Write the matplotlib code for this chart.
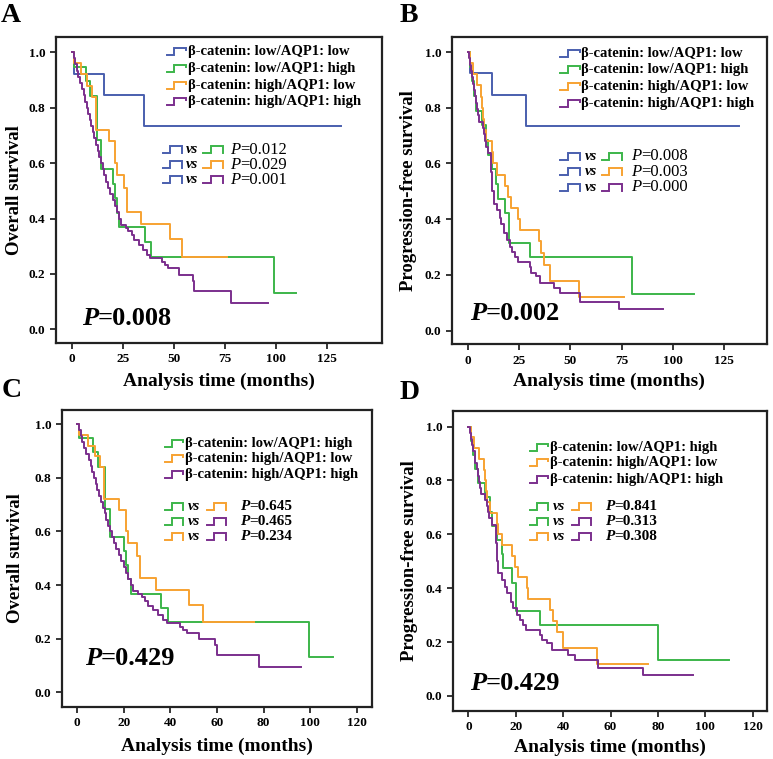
import matplotlib
matplotlib.use('Agg')
import matplotlib.pyplot as plt
from matplotlib.lines import Line2D

plt.rcParams['font.family'] = ['Liberation Serif', 'DejaVu Serif']
plt.rcParams['font.weight'] = 'bold'

# ---------------- data ----------------
group_labels = ['β-catenin: low/AQP1: low', 'β-catenin: low/AQP1: high',
                'β-catenin: high/AQP1: low', 'β-catenin: high/AQP1: high']
colors = ['#4a5fae', '#3cb64a', '#f7a231', '#7b2f8d']

# Overall survival (months, survival proportion)
blue_os_t = [0, 1, 15.7, 35.3]
blue_os_s = [1.0, 0.923, 0.846, 0.734]
blue_os_end = 132

green_os_t = [0, 1, 7, 9, 12, 14, 20, 21, 22, 23, 36, 39, 99.3]
green_os_s = [1.0, 0.947, 0.895, 0.842, 0.684, 0.579, 0.526, 0.474, 0.421, 0.368, 0.316, 0.263, 0.132]
green_os_end = 110

orange_os_t = [0, 1, 4.5, 7.5, 10, 11.7, 18, 21, 22, 25.7, 27, 34, 48.2, 54]
orange_os_s = [1.0, 0.96, 0.92, 0.88, 0.84, 0.72, 0.68, 0.60, 0.556, 0.51, 0.425, 0.382, 0.326, 0.262]
orange_os_end = 76

purple_os_t = [0, 0.7, 1.5, 2.2, 3.0, 4.0, 5.0, 5.8, 6.5, 7.2, 8.0, 8.7, 9.4, 10.2, 11.0,
               11.8, 12.6, 13.3, 14.2, 15.0, 15.8, 16.8, 17.8, 18.8, 20.0, 21.0, 22.0, 23.2,
               24.2, 26.3, 27.7, 29.2, 30.6, 32.7, 34.9, 37.0, 38.5, 44.2, 45.6, 47.3, 52.4,
               59.2, 60.0, 78.0]
purple_os_s = [1.0, 0.978, 0.956, 0.933, 0.911, 0.889, 0.867, 0.844, 0.822, 0.8, 0.778, 0.756,
               0.733, 0.711, 0.689, 0.667, 0.644, 0.622, 0.6, 0.578, 0.556, 0.533, 0.511, 0.489,
               0.467, 0.444, 0.422, 0.4, 0.378, 0.367, 0.356, 0.34, 0.322, 0.305, 0.288, 0.27,
               0.257, 0.245, 0.232, 0.22, 0.198, 0.176, 0.139, 0.095]
purple_os_end = 96

# Progression-free survival
blue_pfs_t = [0, 1, 12, 28.2]
blue_pfs_s = [1.0, 0.923, 0.846, 0.734]
blue_pfs_end = 132

green_pfs_t = [0, 1, 2, 3, 4, 7, 9, 10, 12, 14, 14.8, 18.3, 20.2, 30.2, 80.2]
green_pfs_s = [1.0, 0.947, 0.895, 0.842, 0.789, 0.737, 0.684, 0.632, 0.579, 0.526, 0.474,
               0.421, 0.316, 0.263, 0.132]
green_pfs_end = 110

orange_pfs_t = [0, 1, 2.5, 4.5, 6.5, 7, 7.5, 8, 9.1, 12, 12.5, 14.1, 18.3, 19.5, 21, 24.6,
                25.3, 34.5, 35.9, 37.3, 40.1, 54.2]
orange_pfs_s = [1.0, 0.96, 0.92, 0.88, 0.84, 0.80, 0.76, 0.72, 0.68, 0.64, 0.60, 0.56, 0.52,
                0.48, 0.44, 0.40, 0.36, 0.32, 0.28, 0.237, 0.178, 0.119]
orange_pfs_end = 76

purple_pfs_t = [0, 0.7, 1.2, 1.7, 2.1, 2.6, 3.0, 3.5, 4.0, 4.5, 5.0, 5.5, 7.2, 7.7, 8.4, 8.9,
                9.9, 11.5, 12.0, 12.7, 14.1, 15.5, 16.2, 17.9, 19.0, 20.4, 21.8, 23.2, 24.3,
                30.2, 31.0, 33.3, 35.4, 42.2, 45.0, 54.9, 73.9]
purple_pfs_s = [1.0, 0.977, 0.955, 0.932, 0.909, 0.886, 0.864, 0.841, 0.818, 0.795, 0.773,
                0.75, 0.727, 0.705, 0.682, 0.659, 0.636, 0.568, 0.5, 0.455, 0.432, 0.406,
                0.381, 0.35, 0.326, 0.301, 0.282, 0.264, 0.245, 0.227, 0.208, 0.196, 0.171,
                0.152, 0.134, 0.103, 0.078]
purple_pfs_end = 95

yticks = [0.0, 0.2, 0.4, 0.6, 0.8, 1.0]
xticks_ab = [0, 25, 50, 75, 100, 125]
xticks_cd = [0, 20, 40, 60, 80, 100, 120]

overall_p = {'A': '=0.008', 'B': '=0.002', 'C': '=0.429', 'D': '=0.429'}
pairs_ab = [(0, 1), (0, 2), (0, 3)]
pairs_cd = [(1, 2), (1, 3), (2, 3)]
pair_p = {'A': ['=0.012', '=0.029', '=0.001'],
          'B': ['=0.008', '=0.003', '=0.000'],
          'C': ['=0.645', '=0.465', '=0.234'],
          'D': ['=0.841', '=0.313', '=0.308']}

os_curves = [(blue_os_t, blue_os_s, blue_os_end), (green_os_t, green_os_s, green_os_end),
             (orange_os_t, orange_os_s, orange_os_end), (purple_os_t, purple_os_s, purple_os_end)]
pfs_curves = [(blue_pfs_t, blue_pfs_s, blue_pfs_end), (green_pfs_t, green_pfs_s, green_pfs_end),
              (orange_pfs_t, orange_pfs_s, orange_pfs_end),
              (purple_pfs_t, purple_pfs_s, purple_pfs_end)]

# ---------------- layout ----------------
W, H = 773, 759
fig = plt.figure(figsize=(W / 100, H / 100), dpi=100)


def ax_px(left, top, right, bottom):
    return fig.add_axes([left / W, 1 - bottom / H, (right - left) / W, (bottom - top) / H])


panels = {
    'A': dict(box=(56, 37, 382, 343), xlim=(-7.9, 152.2), ylim=(-0.049, 1.055),
              xt=xticks_ab, curves=os_curves, groups=[0, 1, 2, 3], pairs=pairs_ab,
              ylabel='Overall survival', ylab_x=-0.126, xlab_y=-0.124,
              leg_gx=(0.34, 0.400), leg_tx=0.405, leg_y=[0.952, 0.898, 0.843, 0.789],
              vs_y=[0.631, 0.582, 0.533], vs_g1=(0.327, 0.386), vs_x=0.397,
              vs_g2=(0.451, 0.512), vs_px=0.534, vs_fs=12, vs_w='normal',
              p_xy=(0.079, 0.059), letter_xy=(1, 22)),
    'B': dict(box=(451.7, 36.7, 766.7, 344.3), xlim=(-7.8, 145.6), ylim=(-0.049, 1.055),
              xt=xticks_ab, curves=pfs_curves, groups=[0, 1, 2, 3], pairs=pairs_ab,
              ylabel='Progression-free survival', ylab_x=-0.136, xlab_y=-0.119,
              leg_gx=(0.344, 0.407), leg_tx=0.412, leg_y=[0.946, 0.892, 0.838, 0.784],
              vs_y=[0.612, 0.561, 0.510], vs_g1=(0.344, 0.407), vs_x=0.423,
              vs_g2=(0.476, 0.540), vs_px=0.569, vs_fs=12, vs_w='normal',
              p_xy=(0.058, 0.079), letter_xy=(400, 22)),
    'C': dict(box=(61.7, 410, 371.7, 706.7), xlim=(-6.6, 126.4), ylim=(-0.054, 1.053),
              xt=xticks_cd, curves=os_curves, groups=[1, 2, 3], pairs=pairs_cd,
              ylabel='Overall survival', ylab_x=-0.149, xlab_y=-0.135,
              leg_gx=(0.333, 0.392), leg_tx=0.398, leg_y=[0.888, 0.837, 0.781],
              vs_y=[0.676, 0.624, 0.573], vs_g1=(0.333, 0.390), vs_x=0.408,
              vs_g2=(0.468, 0.530), vs_px=0.575, vs_fs=11, vs_w='bold',
              p_xy=(0.075, 0.14), letter_xy=(2, 397)),
    'D': dict(box=(452.7, 411, 766.7, 711), xlim=(-6.6, 125.9), ylim=(-0.056, 1.058),
              xt=xticks_cd, curves=pfs_curves, groups=[1, 2, 3], pairs=pairs_cd,
              ylabel='Progression-free survival', ylab_x=-0.138, xlab_y=-0.12,
              leg_gx=(0.246, 0.305), leg_tx=0.310, leg_y=[0.879, 0.828, 0.772],
              vs_y=[0.683, 0.631, 0.581], vs_g1=(0.246, 0.305), vs_x=0.320,
              vs_g2=(0.379, 0.440), vs_px=0.485, vs_fs=11, vs_w='bold',
              p_xy=(0.055, 0.07), letter_xy=(400, 399)),
}

LW = 1.4


def glyph(ax, x0, x1, yc, color, closed):
    hh = 7.0 / ax.bbox.height / 2
    xm = x0 + 0.38 * (x1 - x0)
    xs = [x0, xm, xm, x1, x1]
    ys = [yc - hh, yc - hh, yc + hh, yc + hh, (yc - hh) if closed else (yc + 0.4 * hh)]
    ax.add_line(Line2D(xs, ys, transform=ax.transAxes, color=color, lw=LW,
                       clip_on=False, solid_joinstyle='miter'))


for key, p in panels.items():
    ax = ax_px(*p['box'])
    for g in p['groups']:
        t, s, end = p['curves'][g]
        ax.step(list(t) + [end], list(s) + [s[-1]], where='post', color=colors[g], lw=LW)
    ax.set_xlim(*p['xlim'])
    ax.set_ylim(*p['ylim'])
    ax.set_xticks(p['xt'])
    ax.set_xticklabels([str(v) for v in p['xt']])
    ax.set_yticks(yticks)
    ax.set_yticklabels(['%.1f' % v for v in yticks])
    ax.tick_params(direction='out', length=4.5, width=1.1, labelsize=9.5, pad=3)
    for sp in ax.spines.values():
        sp.set_linewidth(1.6)
        sp.set_color('#222222')
    ax.set_ylabel(p['ylabel'], fontsize=13.5, fontweight='bold')
    ax.yaxis.set_label_coords(p['ylab_x'], 0.5)
    ax.yaxis.label.set_va('center')
    ax.set_xlabel('Analysis time (months)', fontsize=14, fontweight='bold')
    ax.xaxis.set_label_coords(0.5, p['xlab_y'])
    ax.xaxis.label.set_va('center')

    # group legend
    for g, yy in zip(p['groups'], p['leg_y']):
        glyph(ax, p['leg_gx'][0], p['leg_gx'][1], yy, colors[g], False)
        ax.text(p['leg_tx'], yy, group_labels[g], transform=ax.transAxes, ha='left',
                va='center', fontsize=10.5, fontweight='bold')

    # pairwise comparisons
    for (a, b), yy, pv in zip(p['pairs'], p['vs_y'], pair_p[key]):
        glyph(ax, p['vs_g1'][0], p['vs_g1'][1], yy, colors[a], True)
        ax.text(p['vs_x'], yy, 'vs', transform=ax.transAxes, ha='left', va='center',
                fontsize=10.5, fontweight='bold', style='italic')
        glyph(ax, p['vs_g2'][0], p['vs_g2'][1], yy, colors[b], True)
        pt = ax.text(p['vs_px'], yy, 'P', transform=ax.transAxes, ha='left', va='center',
                     fontsize=p['vs_fs'], fontweight=p['vs_w'], style='italic')
        ax.annotate(pv, xy=(1, 0.5), xycoords=pt, ha='left', va='center',
                    fontsize=p['vs_fs'], fontweight=p['vs_w'])

    # overall P
    big = ax.text(p['p_xy'][0], p['p_xy'][1], 'P', transform=ax.transAxes, ha='left',
                  va='baseline', fontsize=19, fontweight='bold', style='italic')
    ax.annotate(overall_p[key], xy=(1, 0), xycoords=big, ha='left', va='bottom',
                fontsize=19, fontweight='bold')

    lx, ly = p['letter_xy']
    fig.text(lx / W, 1 - ly / H, key, ha='left', va='baseline', fontsize=20,
             fontweight='bold')

fig.savefig('out.png', dpi=100)
